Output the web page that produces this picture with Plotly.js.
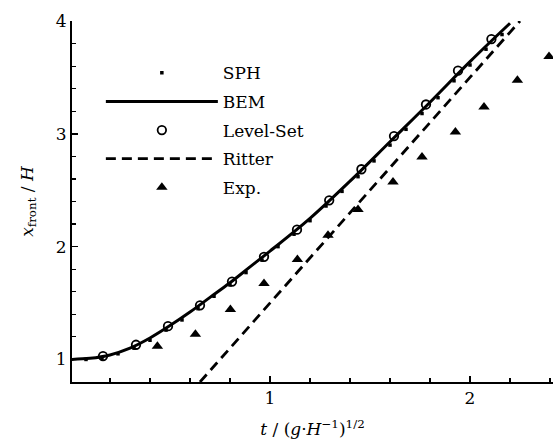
<!DOCTYPE html>
<html>
<head>
<meta charset="utf-8">
<script src="https://cdn.plot.ly/plotly-3.0.1.min.js"></script>
<style>html,body{margin:0;padding:0;background:#fff;}#chart{width:553px;height:442px;}</style>
</head>
<body>
<div id="chart"></div>
<script>
// SPH (small dots)
const sphT = [0.08,0.16,0.24,0.32,0.40,0.48,0.56,0.64,0.72,0.80,0.88,0.96,1.04,1.12,1.20,1.28,1.36,1.44,1.52,1.60,1.68,1.76,1.84,1.92,2.00,2.08,2.16];
const sphX = [1.00,1.01,1.05,1.10,1.17,1.26,1.35,1.45,1.56,1.66,1.77,1.88,2.00,2.11,2.23,2.36,2.49,2.62,2.76,2.90,3.04,3.18,3.32,3.47,3.61,3.75,3.88];
// BEM (solid line)
const bemT = [0.00,0.10,0.20,0.30,0.40,0.50,0.60,0.70,0.80,0.90,1.00,1.20,1.40,1.60,1.80,2.00,2.20];
const bemX = [1.00,1.01,1.04,1.10,1.19,1.30,1.42,1.55,1.68,1.82,1.96,2.25,2.58,2.93,3.28,3.64,3.98];
// Level-Set (open circles)
const lsT = [0.165,0.33,0.49,0.65,0.81,0.97,1.135,1.296,1.457,1.62,1.78,1.94,2.107];
const lsX = [1.03,1.13,1.295,1.48,1.69,1.91,2.15,2.41,2.686,2.98,3.26,3.56,3.84];
// Ritter (dashed line)
const ritT = [0.65,2.25];
const ritX = [0.80,4.00];
// Exp. (filled triangles)
const expT = [0.437,0.627,0.802,0.97,1.137,1.29,1.44,1.615,1.76,1.927,2.07,2.237,2.395];
const expX = [1.118,1.224,1.443,1.673,1.886,2.10,2.33,2.573,2.795,3.016,3.237,3.474,3.686];

const FONT = 'DejaVu Serif, Liberation Serif, serif';

const traces = [
  {x: sphT, y: sphX, name: 'SPH', mode: 'markers', type: 'scatter', legendgroup: 'a',
   marker: {symbol: 'square', size: 3.5, color: '#000'}},
  {x: bemT, y: bemX, name: 'BEM', mode: 'lines', type: 'scatter', legendgroup: 'b',
   line: {color: '#000', width: 3, shape: 'spline'}},
  {x: lsT, y: lsX, name: 'Level-Set', mode: 'markers', type: 'scatter', legendgroup: 'c',
   marker: {symbol: 'circle-open', size: 8.5, color: '#000', line: {width: 1.8, color: '#000'}}},
  {x: ritT, y: ritX, name: 'Ritter', mode: 'lines', type: 'scatter', legendgroup: 'd',
   line: {color: '#000', width: 2.8, dash: '10px,6px'}},
  {x: expT, y: expX, name: 'Exp.', mode: 'markers', type: 'scatter', legendgroup: 'e',
   marker: {symbol: 'triangle-up', size: 10, color: '#000'}}
];

const layout = {
  width: 553, height: 442,
  margin: {l: 72, r: 0, t: 21, b: 60},
  paper_bgcolor: '#fff', plot_bgcolor: '#fff',
  font: {family: FONT, size: 17, color: '#000'},
  showlegend: true,
  legend: {x: 0.06, y: 0.905, xanchor: 'left', yanchor: 'top', bgcolor: 'rgba(0,0,0,0)',
    font: {family: FONT, size: 17, color: '#000'}, itemwidth: 112, traceorder: 'grouped', tracegroupgap: 3.5},
  xaxis: {
    range: [0.01, 2.415], showgrid: false, zeroline: false,
    showline: true, linecolor: '#000', linewidth: 2,
    ticks: 'inside', ticklen: 6, tickwidth: 1.5, tickcolor: '#000',
    tick0: 0, dtick: 1,
    minor: {dtick: 0.2, tick0: 0, ticks: 'inside', ticklen: 4, tickwidth: 1.2, tickcolor: '#000', showgrid: false},
    tickfont: {family: FONT, size: 17},
    title: {text: '<i>t</i> / (<i>g</i>·<i>H</i><sup>−1</sup>)<sup>1/2</sup>', font: {family: FONT, size: 17}, standoff: 16}
  },
  yaxis: {
    range: [0.8, 4.0], showgrid: false, zeroline: false,
    showline: true, linecolor: '#000', linewidth: 2,
    ticks: 'inside', ticklen: 6, tickwidth: 1.5, tickcolor: '#000',
    tick0: 0, dtick: 1,
    minor: {dtick: 0.2, tick0: 0, ticks: 'inside', ticklen: 4, tickwidth: 1.2, tickcolor: '#000', showgrid: false},
    tickfont: {family: FONT, size: 17},
    title: {text: '<i>x</i><sub>front</sub> / <i>H</i>', font: {family: FONT, size: 17}, standoff: 18}
  }
};

Plotly.newPlot('chart', traces, layout, {staticPlot: true, displayModeBar: false});
</script>
</body>
</html>
